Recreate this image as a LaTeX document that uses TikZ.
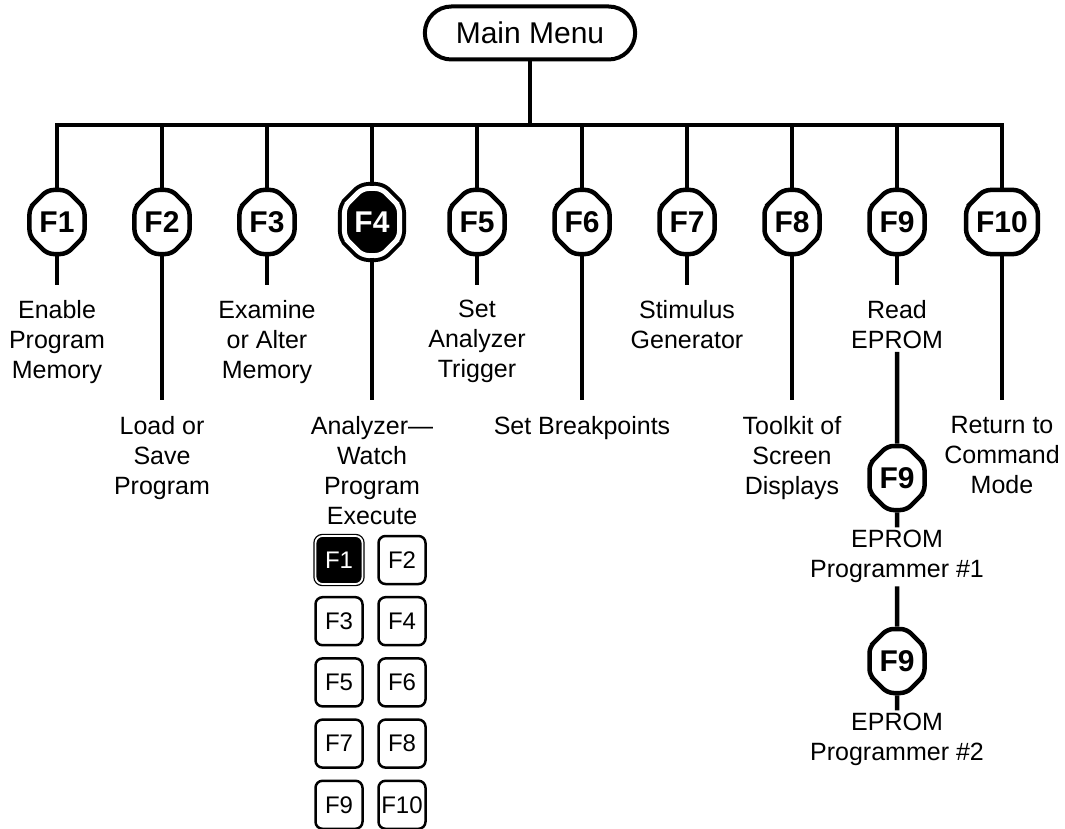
\documentclass[tikz,border=0pt]{standalone}
\usepackage{fontspec}
\setmainfont{Liberation Sans}
\usetikzlibrary{shapes.misc,positioning}
\tikzset{
    link/.style   = {draw=black, line width=4.5pt},
    menubox/.style = {rounded rectangle, draw=black, line width=4pt, minimum width=217pt, minimum height=53pt,
                      font=\fontsize{30}{30}\selectfont},
    fkey/.style   = {chamfered rectangle, chamfered rectangle xsep=6pt, chamfered rectangle ysep=12pt,
                     draw=black, line width=4.5pt, fill=white, rounded corners=6pt, minimum width=45pt,
                     minimum height=64pt, inner xsep=4pt, font=\fontsize{30}{30}\selectfont\bfseries},
    fkeyon/.style = {fkey, fill=black, text=white, double=white, double distance=5pt, line width=4pt,
                     minimum width=48pt, minimum height=67pt},
    lbl/.style    = {align=center, inner xsep=0pt, inner ysep=3pt, font=\fontsize{25}{30}\selectfont},
    key/.style    = {rectangle, draw=black, line width=2.5pt, rounded corners=7pt, fill=white, minimum width=47pt,
                     minimum height=48pt, inner sep=1pt, font=\fontsize{24}{24}\selectfont},
    keyon/.style  = {key, fill=black, text=white, double=white, double distance=1.8pt, line width=1.3pt}
}
\begin{document}
\begin{tikzpicture}[x=1pt, y=-1pt]
    \def\dx{105}
    \useasboundingbox (0,0) rectangle (1065,829);
    \node[menubox] (menu) at (530,33) {Main Menu};
    \coordinate (bar) at (0,125);
    \coordinate (shortend) at (0,285);
    \coordinate (longend) at (0,400);
    \foreach \i/\s in {1/fkey,2/fkey,3/fkey,4/fkeyon,5/fkey,6/fkey,7/fkey,8/fkey,9/fkey,10/fkey}
        \node[\s] (f\i) at ({57+(\i-1)*\dx},222) {F\i};
    \foreach \i in {1,...,10}
        \draw[link] (menu.south) -- (menu.south |- bar) -| (f\i.north);
    \foreach \i in {1,3,5,7,9}
        \draw[link] (f\i) -- (f\i |- shortend) coordinate (s\i);
    \foreach \i in {2,4,6,8,10}
        \draw[link] (f\i) -- (f\i |- longend) coordinate (s\i);
    \node[lbl, below=12pt of s1]  (t1)  {Enable\\Program\\Memory};
    \node[lbl, below=13pt of s2]  (t2)  {Load or\\Save\\Program};
    \node[lbl, below=12pt of s3]  (t3)  {Examine\\or Alter\\Memory};
    \node[lbl, below=13pt of s4]  (t4)  {Analyzer—\\Watch\\Program\\Execute};
    \node[lbl, below=12pt of s5]  (t5)  {Set\\Analyzer\\Trigger};
    \node[lbl, below=13pt of s6]  (t6)  {Set Breakpoints};
    \node[lbl, below=12pt of s7]  (t7)  {Stimulus\\Generator};
    \node[lbl, below=13pt of s8]  (t8)  {Toolkit of\\Screen\\Displays};
    \node[lbl, below=12pt of s9]  (t9)  {Read\\EPROM};
    \node[lbl, below=13pt of s10] (t10) {Return to\\Command\\Mode};
    % EPROM programmer chain
    \node[fkey] (g9) at (897,478) {F9};
    \node[lbl, below=15pt of g9] (u9) {EPROM\\Programmer \#1};
    \node[fkey] (h9) at (897,661) {F9};
    \node[lbl, below=15pt of h9] (v9) {EPROM\\Programmer \#2};
    \draw[link] (t9) -- (g9);
    \draw[link] (g9) -- (u9);
    \draw[link] (u9) -- (h9);
    \draw[link] (h9) -- (v9);
    % analyzer keys
    \node[keyon] (k1) at (339,560) {F1};
    \foreach \n in {2,...,10} {
        \pgfmathsetmacro\kx{339+63*mod(\n-1,2)}
        \pgfmathsetmacro\ky{560+61.2*floor((\n-1)/2)}
        \node[key] (k\n) at (\kx,\ky) {F\n};
    }
\end{tikzpicture}
\end{document}
